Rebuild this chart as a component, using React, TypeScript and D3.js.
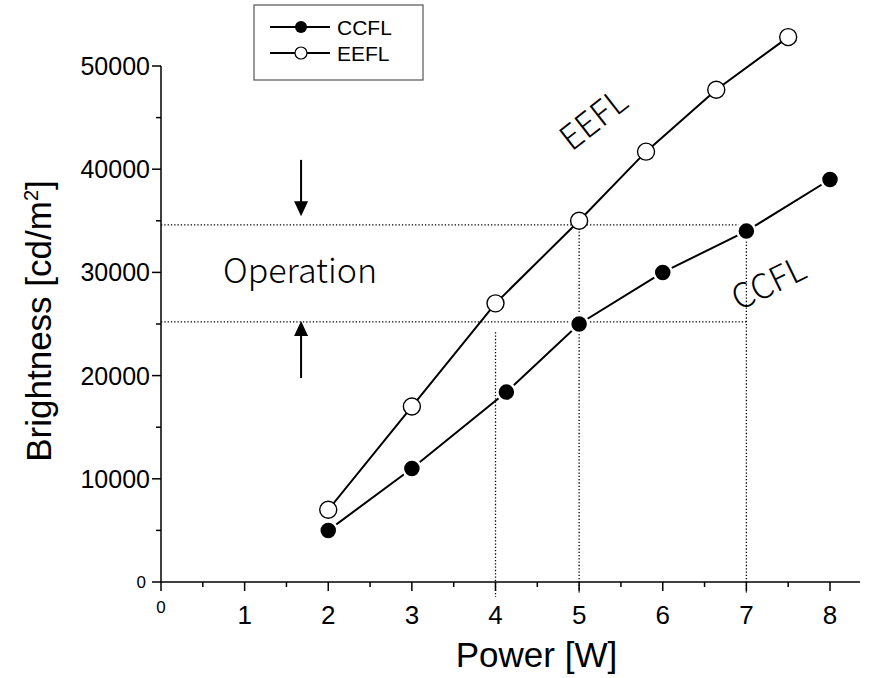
import React from "react";
import * as d3 from "d3";

// CCFL (filled markers)
const ccflPower = [2, 3, 4.13, 5, 6, 7, 8];
const ccflBright = [5000, 11000, 18400, 25000, 30000, 34000, 39000];
// EEFL (open markers)
const eeflPower = [2, 3, 4, 5, 5.8, 6.64, 7.5];
const eeflBright = [7000, 17000, 27000, 35000, 41700, 47700, 52800];

const xTicks = [0, 1, 2, 3, 4, 5, 6, 7, 8];
const yTicks = [0, 10000, 20000, 30000, 40000, 50000];

// operation window
const opHigh = 34600;
const opLow = 25200;

const W = 880;
const H = 678;
const FONT = "'Liberation Sans', Arial, sans-serif";
const LIGHT = "'Noto Sans CJK KR', 'Noto Sans', sans-serif";

export default function App() {
  const x = d3.scaleLinear().domain([0, 8]).range([161, 830]);
  const y = d3.scaleLinear().domain([0, 50000]).range([582, 66]);

  const ccfl = ccflPower.map((p, i) => [p, ccflBright[i]] as [number, number]);
  const eefl = eeflPower.map((p, i) => [p, eeflBright[i]] as [number, number]);

  const line = d3
    .line<[number, number]>()
    .x((d) => x(d[0]))
    .y((d) => y(d[1]));

  const minorX = d3.range(0.5, 8.5, 1);
  const minorY = d3.range(5000, 50000, 10000);
  const xEnd = 860;

  const arrowX = x(1.675);
  const dot = { stroke: "#000", strokeWidth: 1.3, strokeDasharray: "1.3,2" };

  return (
    <svg
      width={W}
      height={H}
      style={{ position: "absolute", left: 0, top: 0, background: "#fff" }}
      fontFamily={FONT}
    >
      {/* dotted guides */}
      <g {...dot} fill="none">
        <line x1={x(0)} x2={x(7)} y1={y(opHigh)} y2={y(opHigh)} />
        <line x1={x(0)} x2={x(7)} y1={y(opLow)} y2={y(opLow)} />
        <line x1={x(4)} x2={x(4)} y1={y(24200)} y2={y(0) + 15} />
        <line x1={x(5)} x2={x(5)} y1={y(opHigh)} y2={y(0) + 11} />
        <line x1={x(7)} x2={x(7)} y1={y(opHigh)} y2={y(0) + 11} />
      </g>

      {/* axes */}
      <g stroke="#000" strokeWidth={1.5}>
        <line x1={x(0)} x2={xEnd} y1={y(0)} y2={y(0)} />
        <line x1={x(0)} x2={x(0)} y1={y(0)} y2={y(50000)} />
        {xTicks.map((t) => (
          <line key={"xt" + t} x1={x(t)} x2={x(t)} y1={y(0)} y2={y(0) + 9} />
        ))}
        {minorX.map((t) => (
          <line key={"xm" + t} x1={x(t)} x2={x(t)} y1={y(0)} y2={y(0) + 5} />
        ))}
        {yTicks.map((t) => (
          <line key={"yt" + t} x1={x(0) - 9} x2={x(0)} y1={y(t)} y2={y(t)} />
        ))}
        {minorY.map((t) => (
          <line key={"ym" + t} x1={x(0) - 5} x2={x(0)} y1={y(t)} y2={y(t)} />
        ))}
      </g>
      <g fill="#000">
        {xTicks.map((t) => (
          <text
            key={"xl" + t}
            x={x(t)}
            y={t === 0 ? y(0) + 31 : y(0) + 42}
            textAnchor="middle"
            fontSize={t === 0 ? 17 : 26}
          >
            {t}
          </text>
        ))}
        {yTicks.map((t) => (
          <text
            key={"yl" + t}
            x={t === 0 ? x(0) - 15 : x(0) - 11}
            y={y(t)}
            dy="0.36em"
            textAnchor="end"
            fontSize={t === 0 ? 17 : 25}
          >
            {t}
          </text>
        ))}
        <text x={x(4.49)} y={667} textAnchor="middle" fontSize={35}>
          Power [W]
        </text>
        <text
          transform={`translate(51,${y(25000) - 3}) rotate(-90)`}
          textAnchor="middle"
          fontSize={35}
        >
          Brightness [cd/m
          <tspan fontSize={20} dy={-13}>
            2
          </tspan>
          <tspan dy={13}>]</tspan>
        </text>
      </g>

      {/* series */}
      <path d={line(eefl) ?? ""} fill="none" stroke="#000" strokeWidth={2} />
      <path d={line(ccfl) ?? ""} fill="none" stroke="#000" strokeWidth={2} />
      {ccfl.map((d, i) => (
        <circle
          key={"c" + i}
          cx={x(d[0])}
          cy={y(d[1])}
          r={9}
          fill="#000"
          stroke="#fff"
          strokeWidth={2.5}
        />
      ))}
      {eefl.map((d, i) => (
        <circle
          key={"e" + i}
          cx={x(d[0])}
          cy={y(d[1])}
          r={8.5}
          fill="#fff"
          stroke="#000"
          strokeWidth={1.4}
        />
      ))}

      {/* arrows */}
      <g stroke="#000" strokeWidth={2} fill="#000">
        <line x1={arrowX} x2={arrowX} y1={y(40900)} y2={y(35450) - 10} />
        <path
          d={`M${arrowX - 7},${y(35450) - 15} L${arrowX + 7},${y(35450) - 15} L${arrowX},${y(35450)} Z`}
          strokeWidth={0}
        />
        <line x1={arrowX} x2={arrowX} y1={y(19770)} y2={y(25300) + 10} />
        <path
          d={`M${arrowX - 7},${y(25300) + 15} L${arrowX + 7},${y(25300) + 15} L${arrowX},${y(25300)} Z`}
          strokeWidth={0}
        />
      </g>

      {/* annotations */}
      <g fontFamily={LIGHT} fontWeight={300} fill="#000">
        <text x={223} y={283} fontSize={34}>
          Operation
        </text>
        <text
          transform={`translate(${x(5.26)},${y(43900)}) rotate(-38)`}
          fontSize={34}
          textAnchor="middle"
        >
          EEFL
        </text>
        <text
          transform={`translate(${x(7.33)},${y(27900)}) rotate(-26)`}
          fontSize={34}
          textAnchor="middle"
        >
          CCFL
        </text>
      </g>

      {/* legend */}
      <g>
        <rect x={254} y={5} width={169} height={75} fill="#fff" stroke="#555" strokeWidth={1.2} />
        <line x1={270} x2={330} y1={27} y2={27} stroke="#000" strokeWidth={2} />
        <circle cx={301} cy={27} r={6} fill="#000" />
        <text x={337} y={27} dy="0.36em" fontSize={21}>
          CCFL
        </text>
        <line x1={270} x2={330} y1={53} y2={53} stroke="#000" strokeWidth={2} />
        <circle cx={301} cy={53} r={6} fill="#fff" stroke="#000" strokeWidth={1.2} />
        <text x={337} y={53} dy="0.36em" fontSize={21}>
          EEFL
        </text>
      </g>
    </svg>
  );
}
